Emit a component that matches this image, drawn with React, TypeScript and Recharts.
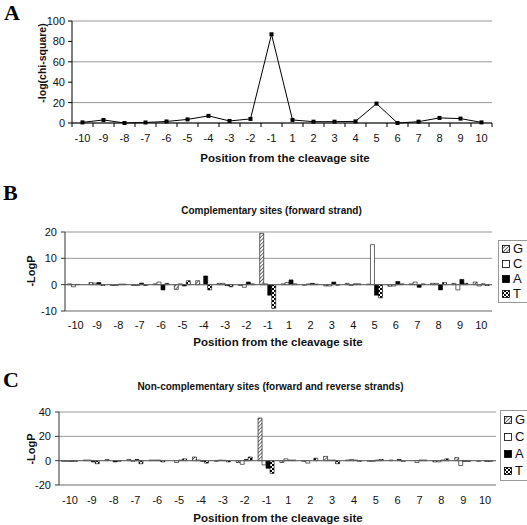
import { LineChart, Line, BarChart, Bar, XAxis, YAxis, CartesianGrid, ReferenceLine, Legend } from "recharts";

const positions = ["-10", "-9", "-8", "-7", "-6", "-5", "-4", "-3", "-2", "-1", "1", "2", "3", "4", "5", "6", "7", "8", "9", "10"];

// panel A: -log(chi-square)
const chiSquare = [0.6, 3, 0, 0.5, 1.5, 3.5, 7, 2, 4, 87, 3, 1.3, 1.3, 1.6, 19, 0, 1.3, 5, 4.3, 0.6];

// panel B: complementary sites (forward strand)
const compG = [0.3, 0.8, -0.3, -0.3, 0.3, -1.8, 1.5, 0.5, -0.3, 19.5, 0.3, -0.2, -0.5, 0.5, 0.2, -0.6, 0.3, 0.5, 0.5, 1];
const compC = [-0.8, 0.6, -0.3, -0.3, 1, 0.3, 0, 0.5, -1, 0.3, 0.8, 0.3, -0.5, -0.3, 15.2, -0.5, 1, 0.5, -2, -0.5];
const compA = [0.1, 0.8, 0.2, 0.6, -2, -0.5, 3.3, -0.3, 1, -4, 1.8, 0.5, 1, 0.3, -4, 1.2, -1, -2, 2, 0.3];
const compT = [0, -0.3, 0.2, -0.3, 0.5, 1.5, -2, -0.8, 0.3, -9, 0.3, 0.2, -0.2, 0.3, -5, 0.3, 0.3, 0.8, 0.5, -0.3];

// panel C: non-complementary sites (forward and reverse strands)
const nonG = [-0.5, 0.5, 1, 1, 0.5, 0, 3, -0.5, -1.5, 35, -1.5, -0.5, 3.5, 0.5, -0.5, 0.5, 0, -1, 2.5, -0.5];
const nonC = [-0.5, 0.5, 0, -0.5, 0.5, -1.5, 0.5, 0.5, -3, -3.5, 1.5, -2, 0.5, 1, -0.5, 0, -1.5, -1, -4, 0];
const nonA = [-0.5, -1, -1, 1, 0.5, 0.5, -0.5, 0.3, 1, -6.3, 0.5, 0, 0.5, 0.5, 0.5, 1, 0.5, 0.5, -0.5, -0.5];
const nonT = [-0.5, -2.5, -0.5, -2.5, -1, 1.5, -2, -1, 3, -10.5, 0.5, 2, -2.5, -0.5, 1, -0.5, 0.5, 1.5, -0.5, -0.5];

const bases = ["G", "C", "A", "T"];

const chiData = positions.map((pos, i) => ({ pos, value: chiSquare[i] }));
const compData = positions.map((pos, i) => ({ pos, G: compG[i], C: compC[i], A: compA[i], T: compT[i] }));
const nonData = positions.map((pos, i) => ({ pos, G: nonG[i], C: nonC[i], A: nonA[i], T: nonT[i] }));

const FONT = "'Liberation Sans', Arial, sans-serif";
const SERIF = "'Liberation Serif', 'Times New Roman', serif";

function fillFor(base: string, suffix: string) {
  if (base === "G") return `url(#hatch${suffix})`;
  if (base === "C") return "#fff";
  if (base === "A") return "#000";
  return `url(#check${suffix})`;
}

function patternDefs(suffix: string) {
  return (
    <defs>
      <pattern id={`hatch${suffix}`} width={2.6} height={2.6} patternUnits="userSpaceOnUse" patternTransform="rotate(45)">
        <rect width={2.6} height={2.6} fill="#fff" />
        <line x1={0} y1={0} x2={0} y2={2.6} stroke="#000" strokeWidth={1.1} />
      </pattern>
      <pattern id={`check${suffix}`} width={4} height={4} patternUnits="userSpaceOnUse">
        <rect width={4} height={4} fill="#000" />
        <rect width={2} height={2} fill="#fff" />
        <rect x={2} y={2} width={2} height={2} fill="#fff" />
      </pattern>
    </defs>
  );
}

function CategoryTick(props: any) {
  const { x, y, payload, index, half, labelDy, marks } = props;
  return (
    <g>
      {marks && <line x1={x - half} x2={x - half} y1={y} y2={y + 4} stroke="#000" />}
      {marks && index === positions.length - 1 && <line x1={x + half} x2={x + half} y1={y} y2={y + 4} stroke="#000" />}
      <text x={x} y={y + labelDy} textAnchor="middle" fontSize={11} fill="#111" fontFamily={FONT}>
        {payload.value}
      </text>
    </g>
  );
}

function SquareDot(props: any) {
  const { cx, cy } = props;
  if (cx == null || cy == null) return null;
  return <rect x={cx - 2} y={cy - 2} width={4} height={4} fill="#000" />;
}

function BaseLegend(props: any) {
  const { suffix, height } = props;
  return (
    <div
      style={{
        border: "1px solid #999",
        background: "#fff",
        height,
        width: 40,
        boxSizing: "border-box",
        display: "flex",
        flexDirection: "column",
        justifyContent: "space-around",
        paddingLeft: 3,
      }}
    >
      {bases.map((b) => (
        <div key={b} style={{ display: "flex", alignItems: "center", fontSize: 13, fontFamily: FONT, lineHeight: "14px", color: "#111" }}>
          <svg width={9} height={8} style={{ marginRight: 2 }}>
            <rect x={0.5} y={0.5} width={7} height={7} fill={fillFor(b, suffix)} stroke="#000" strokeWidth={0.8} />
          </svg>
          {b}
        </div>
      ))}
    </div>
  );
}

const yTick = { fontSize: 11, fill: "#111", fontFamily: FONT };

function ChiChart() {
  return (
    <LineChart width={527} height={170} data={chiData} margin={{ top: 21, right: 35, bottom: 0, left: 0 }}>
      <CartesianGrid vertical={false} stroke="#999" />
      <XAxis
        dataKey="pos"
        scale="band"
        height={47}
        interval={0}
        tickLine={false}
        tickSize={0}
        tickMargin={0}
        axisLine={{ stroke: "#000" }}
        tick={<CategoryTick half={10.5} labelDy={19} marks />}
      />
      <YAxis width={72} domain={[0, 100]} ticks={[0, 20, 40, 60, 80, 100]} tickSize={4} tickMargin={3} tick={yTick} axisLine={{ stroke: "#000" }} tickLine={{ stroke: "#000" }} />
      <YAxis yAxisId="edge" orientation="right" width={0} tick={false} tickLine={false} axisLine={{ stroke: "#999" }} />
      <Line dataKey="value" stroke="#000" strokeWidth={1} dot={<SquareDot />} activeDot={false} isAnimationActive={false} />
    </LineChart>
  );
}

function BaseChart(props: any) {
  const { data, suffix, height, top, right, yWidth, xHeight, domain, ticks, labelDy, gap, legendTop, legendLeft, legendHeight } = props;
  return (
    <BarChart width={527} height={height} data={data} margin={{ top, right, bottom: 0, left: 0 }} barCategoryGap={gap} barGap={0}>
      {patternDefs(suffix)}
      <CartesianGrid vertical={false} stroke="#999" />
      <XAxis
        dataKey="pos"
        height={xHeight}
        interval={0}
        tickLine={false}
        tickSize={0}
        tickMargin={0}
        axisLine={{ stroke: "#999" }}
        tick={<CategoryTick half={0} labelDy={labelDy} marks={false} />}
      />
      <YAxis width={yWidth} domain={domain} ticks={ticks} tickSize={4} tickMargin={4} tick={yTick} axisLine={{ stroke: "#333" }} tickLine={{ stroke: "#333" }} />
      <YAxis yAxisId="edge" orientation="right" width={0} tick={false} tickLine={false} axisLine={{ stroke: "#999" }} />
      <ReferenceLine y={0} stroke="#666" />
      {bases.map((b) => (
        <Bar key={b} dataKey={b} fill={fillFor(b, suffix)} stroke="#000" strokeWidth={0.6} isAnimationActive={false} />
      ))}
      <Legend
        layout="vertical"
        align="center"
        verticalAlign="middle"
        wrapperStyle={{ left: legendLeft, top: legendTop, width: 40 }}
        content={<BaseLegend suffix={suffix} height={legendHeight} />}
      />
    </BarChart>
  );
}

export default function App() {
  return (
    <div style={{ position: "absolute", left: 0, top: 0, width: 527, height: 525, overflow: "hidden", background: "#fff" }}>
      <div style={{ position: "absolute", left: 0, top: 0 }}>
        <ChiChart />
      </div>
      <div style={{ position: "absolute", left: 0, top: 170 }}>
        <BaseChart
          data={compData}
          suffix="B"
          height={180}
          top={62}
          right={35}
          yWidth={65}
          xHeight={39}
          domain={[-10, 20]}
          ticks={[-10, 0, 10, 20]}
          labelDy={18}
          gap="12%"
          legendLeft={498}
          legendTop={70}
          legendHeight={63}
        />
      </div>
      <div style={{ position: "absolute", left: 0, top: 350 }}>
        <BaseChart
          data={nonData}
          suffix="C"
          height={175}
          top={62}
          right={31}
          yWidth={59}
          xHeight={40}
          domain={[-20, 40]}
          ticks={[-20, 0, 20, 40]}
          labelDy={19}
          gap="11%"
          legendLeft={500}
          legendTop={60}
          legendHeight={71}
        />
      </div>
      <svg width={527} height={525} style={{ position: "absolute", left: 0, top: 0, pointerEvents: "none" }}>
        <g fontFamily={SERIF} fontWeight="bold" fontSize={22} fill="#000">
          <text x={4} y={20}>A</text>
          <text x={3} y={200}>B</text>
          <text x={3} y={387}>C</text>
        </g>
        <g fontFamily={FONT} fontWeight="bold" fill="#111" textAnchor="middle">
          <text x={285} y={162} fontSize={11.5}>Position from the cleavage site</text>
          <text x={278} y={346} fontSize={11.5}>Position from the cleavage site</text>
          <text x={278} y={522} fontSize={11.5}>Position from the cleavage site</text>
          <text x={271.5} y={214} fontSize={10}>Complementary sites (forward strand)</text>
          <text x={270.5} y={390} fontSize={10}>Non-complementary sites (forward and reverse strands)</text>
          <text x={46} y={63} fontSize={10.5} transform="rotate(-90 46 63)">-log(chi-square)</text>
          <text x={35} y={271} fontSize={11} transform="rotate(-90 35 271)">-LogP</text>
          <text x={35} y={449} fontSize={11} transform="rotate(-90 35 449)">-LogP</text>
        </g>
      </svg>
    </div>
  );
}
